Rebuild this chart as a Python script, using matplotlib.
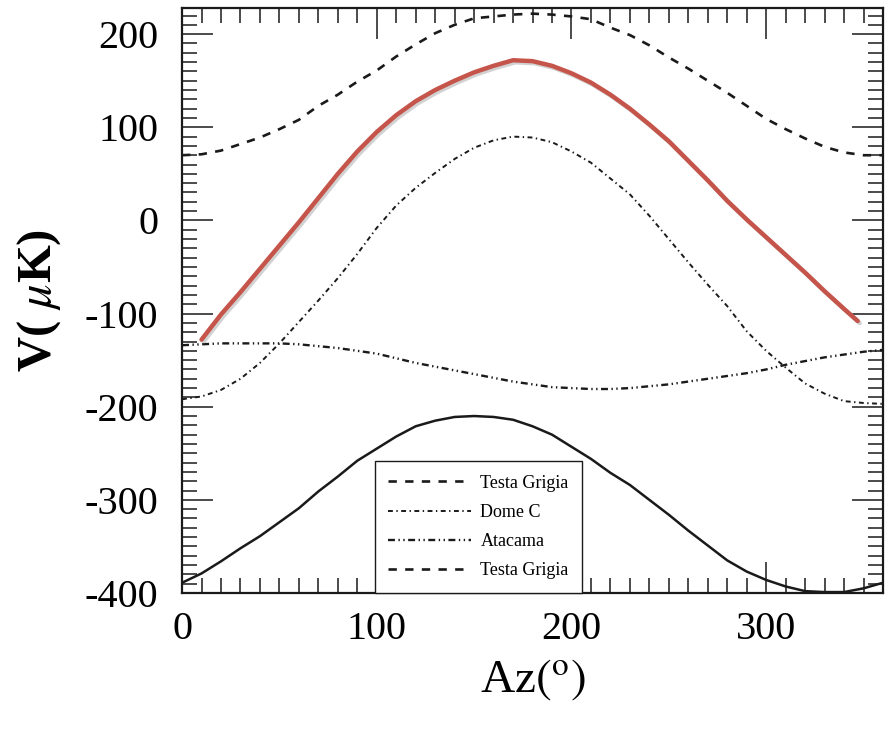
import numpy as np
import matplotlib.pyplot as plt
from matplotlib import patheffects
from matplotlib.ticker import MultipleLocator

plt.rcParams['font.family'] = ['Liberation Serif', 'DejaVu Serif']
plt.rcParams['mathtext.fontset'] = 'stix'
plt.rcParams['axes.unicode_minus'] = False
plt.rcParams['lines.scale_dashes'] = False

# azimuth grid (degrees)
az = np.arange(0, 361, 10)

# V(uK) for each site
testa_grigia = [70, 71, 75, 82, 89, 98, 108, 123, 135, 149, 161, 176, 189, 201, 210, 217, 219, 221,
                222, 221, 219, 216, 207, 199, 188, 175, 163, 150, 137, 123, 109, 98, 88, 79, 73, 70, 70]
dome_c = [-192, -189, -182, -170, -153, -132, -109, -86, -62, -36, -8, 16, 35, 51, 66, 78, 86, 90,
          89, 84, 74, 62, 45, 28, 5, -20, -45, -69, -92, -119, -140, -158, -175, -186, -194, -196, -197]
atacama = [-134, -133, -132, -132, -132, -132, -133, -135, -137, -140, -143, -148, -153, -157, -161, -165,
           -169, -173, -176, -179, -180, -181, -181, -180, -178, -176, -173, -170, -167, -164, -160,
           -155, -151, -147, -144, -141, -139]
testa_grigia_2 = [-389, -379, -366, -352, -339, -324, -309, -291, -275, -258, -245, -232, -221, -215,
                  -211, -210, -211, -214, -221, -230, -243, -256, -271, -284, -300, -316, -333, -349,
                  -365, -377, -386, -393, -398, -399, -399, -395, -389]

# red hand-drawn arc
arc_az = [10, 20, 30, 40, 50, 60, 70, 80, 90, 100, 110, 120, 130, 140, 150, 160, 170, 180,
          190, 200, 210, 220, 230, 240, 250, 260, 270, 280, 290, 300, 310, 320, 330, 340, 347]
arc_v = [-128, -101, -77, -52, -27, -2, 24, 50, 74, 95, 113, 128, 140, 150, 159, 166, 172, 171,
         166, 158, 148, 135, 120, 103, 85, 64, 43, 21, 1, -18, -37, -56, -76, -95, -108]

legend_labels = ['Testa Grigia', 'Dome C', 'Atacama', 'Testa Grigia']

fig, ax = plt.subplots(figsize=(8.95, 7.33), dpi=100)
fig.subplots_adjust(left=0.2034, right=0.9866, bottom=0.191, top=0.989)

ink = '#1a1a1a'
l1, = ax.plot(az, testa_grigia, color=ink, lw=1.9, dashes=(6, 6))
l2, = ax.plot(az, dome_c, color=ink, lw=1.4, dashes=(3.5, 2.5, 1, 2.5))
l3, = ax.plot(az, atacama, color=ink, lw=1.7, dashes=(5, 2.5, 1, 2.5, 1, 2.5))
ax.plot(az, testa_grigia_2, color=ink, lw=1.8)

ax.plot(arc_az, arc_v, color='#c5554b', lw=3.2, solid_capstyle='round', solid_joinstyle='round',
        path_effects=[patheffects.SimpleLineShadow(offset=(1.5, -1.5), shadow_color='gray', alpha=0.35),
                      patheffects.Normal()])

ax.set_xlim(0, 360)
ax.set_ylim(-400, 228)
ax.xaxis.set_major_locator(MultipleLocator(100))
ax.xaxis.set_minor_locator(MultipleLocator(10))
ax.yaxis.set_major_locator(MultipleLocator(100))
ax.yaxis.set_minor_locator(MultipleLocator(10))
ax.tick_params(which='both', direction='in', top=True, right=True, color=ink)
ax.tick_params(which='major', length=22, width=1.1)
ax.tick_params(which='minor', length=11, width=1.1)
ax.tick_params(axis='x', labelsize=29, pad=13)
ax.tick_params(axis='y', labelsize=29, pad=17)
for s in ax.spines.values():
    s.set_linewidth(1.6)
    s.set_color(ink)

ax.set_xlabel(r'Az$(^{\mathrm{o}})$', fontsize=34)
ax.xaxis.set_label_coords(0.5, -0.11)
ax.set_ylabel(r'V( $\mu$K)', fontsize=35, fontweight='bold')
ax.yaxis.set_label_coords(-0.17, 0.5)

leg = ax.legend([l1, l2, l3, l1], legend_labels, loc='lower left', bbox_to_anchor=(0.275, 0.0),
                borderaxespad=0, fontsize=13, handlelength=4.6, handletextpad=0.5,
                borderpad=0.75, labelspacing=0.68, fancybox=False, framealpha=1)
leg.get_frame().set_edgecolor(ink)
leg.get_frame().set_linewidth(1.0)

fig.savefig('out.png', dpi=100)
